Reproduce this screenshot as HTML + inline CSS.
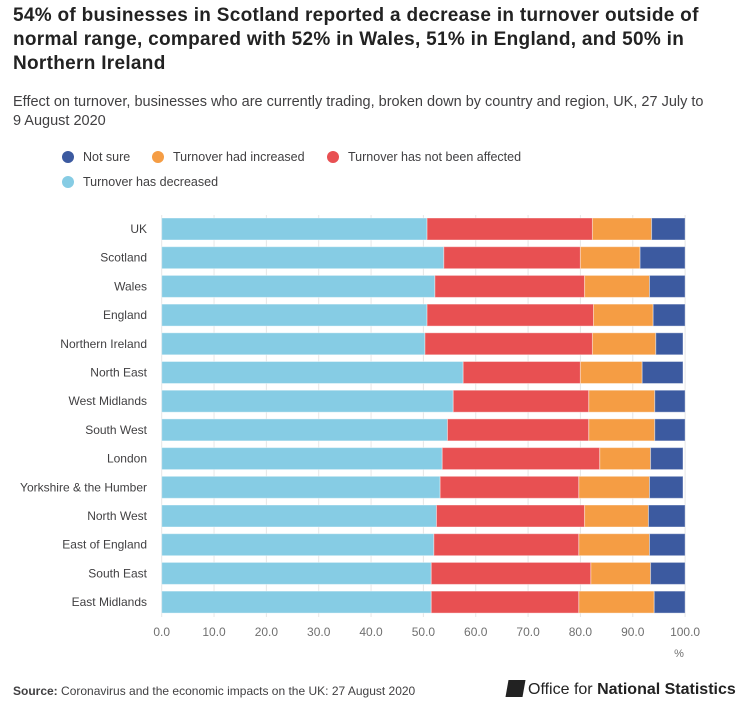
<!DOCTYPE html>
<html><head><meta charset="utf-8"><style>
body{margin:0;background:#fff;font-family:"Liberation Sans",sans-serif;}
#wrap{position:relative;width:755px;height:721px;overflow:hidden}
h1{position:absolute;left:13px;top:4px;margin:0;width:740px;font-size:19px;line-height:24px;font-weight:bold;color:#222;letter-spacing:0.3px;white-space:nowrap}
.sub{position:absolute;left:13px;top:93px;width:740px;font-size:14.5px;line-height:19px;color:#414042;white-space:nowrap}
.leg{position:absolute;font-size:12.5px;color:#414042;display:flex;align-items:center}
.leg i{display:inline-block;width:12px;height:12px;border-radius:50%;margin-right:9px}
.src{position:absolute;left:13px;top:684px;font-size:12px;color:#414042}
.ons{position:absolute;left:507px;top:680px;font-size:16px;color:#222}
</style></head><body><div id="wrap">
<h1>54% of businesses in Scotland reported a decrease in turnover outside of<br>normal range, compared with 52% in Wales, 51% in England, and 50% in<br>Northern Ireland</h1>
<div class="sub">Effect on turnover, businesses who are currently trading, broken down by country and region, UK, 27 July to<br>9 August 2020</div>
<div class="leg" style="left:62px;top:150px"><i style="background:#3c5aa0"></i>Not sure</div>
<div class="leg" style="left:152px;top:150px"><i style="background:#f59d44"></i>Turnover had increased</div>
<div class="leg" style="left:327px;top:150px"><i style="background:#e85052"></i>Turnover has not been affected</div>
<div class="leg" style="left:62px;top:175px"><i style="background:#86cce4"></i>Turnover has decreased</div>
<svg id="c" width="755" height="721" style="position:absolute;left:0;top:0"></svg>
<div class="src"><b>Source:</b> Coronavirus and the economic impacts on the UK: 27 August 2020</div>
<div class="ons"><span style="display:inline-block;width:17px;height:17px;background:#222;transform:skewX(-10deg);vertical-align:-3px;margin-right:4px"></span>Office for <b>National Statistics</b></div>
</div>
<script>
const categories=["UK","Scotland","Wales","England","Northern Ireland","North East","West Midlands","South West","London","Yorkshire & the Humber","North West","East of England","South East","East Midlands"];
const decreased=[50.7,53.9,52.2,50.7,50.3,57.6,55.7,54.6,53.6,53.2,52.5,52.0,51.5,51.5];
const notAffected=[31.6,26.1,28.6,31.8,32.0,22.4,25.9,27.0,30.1,26.5,28.3,27.7,30.5,28.2];
const increased=[11.3,11.4,12.4,11.4,12.1,11.8,12.6,12.6,9.7,13.5,12.2,13.5,11.4,14.4];
const notSure=[6.4,8.6,6.8,6.1,5.2,7.8,5.8,5.8,6.2,6.4,7.0,6.8,6.6,5.9];
const ticks=[0,10,20,30,40,50,60,70,80,90,100];
const series=[[decreased,"#86cce4","decreased"],[notAffected,"#e85052","not-affected"],[increased,"#f59d44","increased"],[notSure,"#3c5aa0","not-sure"]];
const svg=document.getElementById('c'),NS="http://www.w3.org/2000/svg";
const x=v=>161.7+v*5.234, yc=i=>229+i*28.7, bh=22;
function mk(t,a){const e=document.createElementNS(NS,t);for(const k in a)e.setAttribute(k,a[k]);svg.appendChild(e);return e;}
ticks.forEach(t=>{
 const l=mk('line',{x1:x(t),x2:x(t),y1:215,y2:617,stroke:'#e6e6e6','stroke-width':1});
 
 
 const tx=mk('text',{x:x(t),y:636,'text-anchor':'middle','font-size':12,fill:'#707070','font-family':'Liberation Sans'});
 tx.textContent=t.toFixed(1);
 
 
});
const pc=mk('text',{x:679,y:657,'font-size':11,fill:'#707070','font-family':'Liberation Sans','text-anchor':'middle'});pc.textContent='%';


categories.forEach((c,i)=>{
 const t=mk('text',{x:147,y:yc(i)+4,'text-anchor':'end','font-size':12,fill:'#414042','font-family':'Liberation Sans'});t.textContent=c;
 
 
 let acc=0;
 series.forEach(s=>{const v=s[0][i];
  const r=mk('rect',{x:x(acc),y:yc(i)-bh/2,width:x(acc+v)-x(acc),height:bh,fill:s[1],stroke:'#fff','stroke-opacity':0.4,'stroke-width':1});
  
  
  acc+=v;});
});
</script></body></html>
